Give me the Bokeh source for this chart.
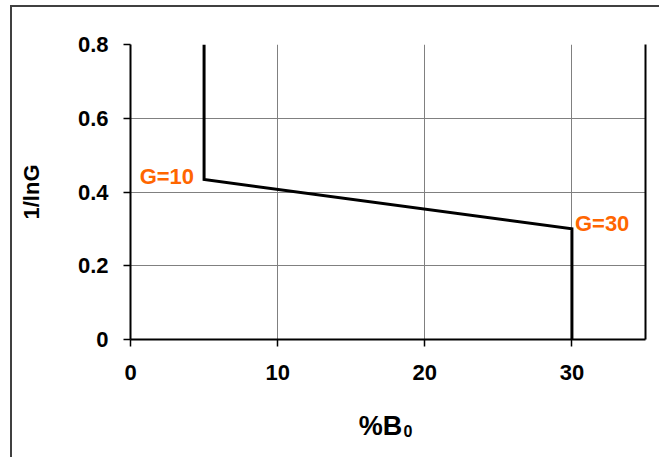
from bokeh.plotting import figure
from bokeh.models import Range1d, FixedTicker, LinearAxis, Label, CustomJSTickFormatter
from bokeh.embed import file_html
from bokeh.resources import INLINE

# ---- data ----
x_values = [5, 5, 30, 30]
y_values = [0.8, 0.434, 0.3, 0.0]
x_ticks = [0, 10, 20, 30]
y_ticks = [0, 0.2, 0.4, 0.6, 0.8]
y_tick_labels = ["0", "0.2", "0.4", "0.6", "0.8"]
label_texts = ["G=10", "G=30"]
label_x = [5, 30]
label_y = [0.434, 0.3]
x_title = "%B"
x_title_sub = "0"
y_title = "1/lnG"
x_min, x_max = 0, 35
y_min, y_max = 0, 0.8

FONT = "Liberation Sans"
ORANGE = "#FF6600"
NB = "\u00a0"

p = figure(
    output_backend="svg", toolbar_location=None,
    frame_width=515, frame_height=295,
    min_border_left=130, min_border_top=44, min_border_right=14, min_border_bottom=118,
    x_range=Range1d(x_min, x_max), y_range=Range1d(y_min, y_max),
    y_axis_label=y_title, x_axis_label=x_title + NB * 2,
)
p.border_fill_color = None
p.background_fill_color = "white"
p.outline_line_color = None
p.styles = {
    "background": "white",
    "box-shadow": "inset 10px 5px 0 0 white, inset 12px 7px 0 0 #404040",
}

p.xaxis.ticker = FixedTicker(ticks=x_ticks)
p.yaxis.ticker = FixedTicker(ticks=y_ticks)
p.yaxis.formatter = CustomJSTickFormatter(
    args=dict(vals=y_ticks, labs=y_tick_labels),
    code="for (let i = 0; i < vals.length; i++) { if (Math.abs(vals[i] - tick) < 1e-9) return labs[i]; } return String(tick);",
)

for ax in (p.xaxis[0], p.yaxis[0]):
    ax.axis_line_width = 2
    ax.axis_line_color = "black"
    ax.major_tick_out = 7
    ax.major_tick_in = 0
    ax.major_tick_line_width = 1.5
    ax.major_tick_line_color = "black"
    ax.minor_tick_line_color = None
    ax.major_label_text_font = FONT
    ax.major_label_text_font_style = "bold"
    ax.major_label_text_font_size = "22px"
    ax.major_label_text_color = "black"
    ax.axis_label_text_font = FONT
    ax.axis_label_text_font_style = "bold"
    ax.axis_label_text_font_size = "22px"
    ax.axis_label_text_color = "black"

p.yaxis.major_label_standoff = 15
p.yaxis.axis_label_standoff = 31
p.xaxis.major_label_standoff = 18
p.xaxis.axis_label_standoff = 28
p.xaxis.axis_label_text_font_size = "27px"

right_axis = LinearAxis(
    ticker=FixedTicker(ticks=[]), axis_line_width=2, axis_line_color="black",
    major_tick_line_color=None, minor_tick_line_color=None,
    major_label_text_font_size="0px",
)
p.add_layout(right_axis, "right")

# second (empty) bottom axis carrying only the subscript of the x title
sub_axis = LinearAxis(
    ticker=FixedTicker(ticks=[]), axis_line_color=None,
    major_tick_line_color=None, minor_tick_line_color=None,
    major_label_text_font_size="0px",
    axis_label=NB * 9 + x_title_sub, axis_label_standoff=-21,
    axis_label_text_font=FONT, axis_label_text_font_style="bold",
    axis_label_text_font_size="16px", axis_label_text_color="black",
)
p.add_layout(sub_axis, "below")

p.xgrid.ticker = FixedTicker(ticks=x_ticks)
p.ygrid.ticker = FixedTicker(ticks=y_ticks)
p.grid.grid_line_color = "#808080"
p.grid.grid_line_width = 1

p.line(x_values, y_values, line_color="black", line_width=3, line_join="miter")

offsets = [(-10, 3, "right"), (3, 5, "left")]
for t, lx, ly, (dx, dy, al) in zip(label_texts, label_x, label_y, offsets):
    p.add_layout(Label(
        x=lx, y=ly, text=t, x_offset=dx, y_offset=dy,
        text_align=al, text_baseline="middle",
        text_font=FONT, text_font_style="bold", text_font_size="22px",
        text_color=ORANGE,
    ))

open("out.html", "w").write(file_html(p, INLINE))
